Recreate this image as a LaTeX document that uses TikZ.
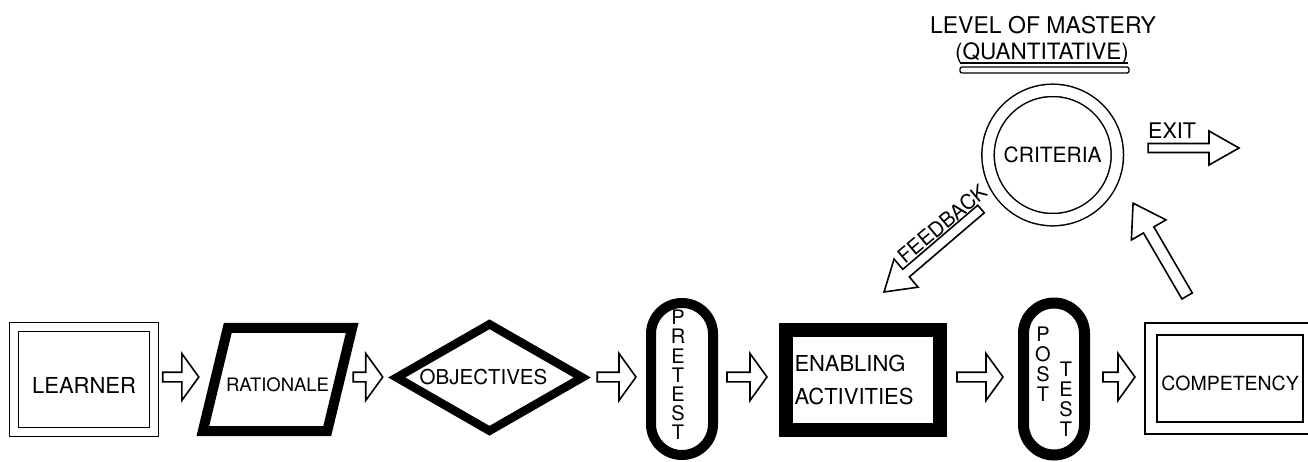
\documentclass[tikz,border=0pt]{standalone}
\usepackage{fontspec}
\setmainfont{TeX Gyre Heros}
\usetikzlibrary{shapes.geometric,calc}

\tikzset{
  ashaft/.store in=\ashaft, ahead/.store in=\ahead, ahlen/.store in=\ahlen,
  ashaft=4.8, ahead=23.5, ahlen=17,
  hollow/.style={draw, line width=1.6pt, fill=white, line join=miter},
  dbox/.style={draw, rectangle, line width=1.5pt, double=white, double distance=7.5pt, inner sep=0pt},
  heavy/.style={draw, line width=#1, inner sep=0pt, line join=miter},
  lbl/.style={font=\fontsize{#1pt}{#1pt}\selectfont},
  stack/.style={font=\fontsize{20pt}{#1pt}\selectfont, align=center, inner sep=0pt}
}

\newcommand{\hollowarrow}[3][]{%
  \draw[hollow,#1] let \p1=(#2), \p2=(#3),
    \n1={atan2(\y2-\y1,\x2-\x1)}, \n2={veclen(\x2-\x1,\y2-\y1)} in
    [shift={(\p1)}, rotate=\n1]
    (0,-\ashaft) -- (\n2-\ahlen,-\ashaft) -- (\n2-\ahlen,-\ahead) -- (\n2,0)
    -- (\n2-\ahlen,\ahead) -- (\n2-\ahlen,\ashaft) -- (0,\ashaft) -- cycle;}

\begin{document}
\begin{tikzpicture}[x=1pt, y=-1pt]
\useasboundingbox (0,0) rectangle (1308,461);
\clip (0,0) rectangle (1308,461);

\coordinate (axis) at (0,377);

\node[dbox, minimum width=139.75pt, minimum height=104.75pt,
  label={[lbl=22, yshift=-5.5pt]center:LEARNER}] (learner) at (84.1,379.6) {};

\node[rectangle, inner sep=0pt, minimum width=149pt, minimum height=103pt,
  label={[lbl=18.5, yshift=-5.5pt]center:RATIONALE}] (rationale) at (277.5,379.5) {};
\draw[line width=10pt, line join=miter] ($(rationale.north west)+(25,0)$) -- (rationale.north east)
  -- ($(rationale.south east)+(-25,0)$) -- (rationale.south west) -- cycle;

\node[heavy=8.5pt, diamond, minimum width=189pt, minimum height=110pt,
  label={[lbl=20.5, xshift=-6pt]center:OBJECTIVES}] (objectives) at (489.5,377.5) {};

\node[heavy=10pt, rectangle, rounded corners=30.9pt, minimum width=62pt,
  minimum height=152pt] (pretest) at (682,379) {};
\node[stack=19.2] (pretestword) at ($(pretest)+(-4,-4)$) {P\\R\\E\\T\\E\\S\\T};

\node[heavy=14pt, rectangle, minimum width=154pt, minimum height=99.5pt,
  align=left, text width=136pt, font=\fontsize{22pt}{33pt}\selectfont]
  (enabling) at (862.5,379.75) {ENABLING\\ACTIVITIES};

\node[heavy=11pt, rectangle, rounded corners=30.4pt, minimum width=61pt,
  minimum height=152pt] (posttest) at (1054,379) {};
\node[stack=20] (postword) at ($(posttest)+(-11,-14.5)$) {P\\O\\S\\T};
\node[stack=20] (testword) at ($(posttest)+(12,20)$) {T\\E\\S\\T};

\node[dbox, double distance=10.5pt, minimum width=157.75pt, minimum height=98.75pt,
  label={[lbl=19.5, yshift=-5pt]center:COMPETENCY}] (competency) at (1230.1,378.6) {};

\node[dbox, circle, double distance=10.8pt, minimum size=129.3pt, lbl=21]
  (criteria) at (1052.7,155) {CRITERIA};

\node[lbl=23] (mastery) at (1043,25) {LEVEL OF MASTERY};
\node[lbl=22.5] (quantity) at (1042,53) {(QUANTITATIVE)};
\draw[line width=1.3pt] ($(quantity)+(-82,10)$) -- ($(quantity)+(86,10)$);
\draw[line width=1.3pt, rounded corners=2pt] ($(quantity)+(-82,14)$) rectangle ($(quantity)+(87,20)$);

\hollowarrow{$(learner.east |- axis)+(8,0)$}{$(rationale.west |- axis)+(-4,0)$}
\hollowarrow{$(rationale.east |- axis)+(1,0)$}{$(objectives.west |- axis)+(-8,0)$}
\hollowarrow{$(objectives.east |- axis)+(9,0)$}{$(pretest.west |- axis)+(-10,0)$}
\hollowarrow{$(pretest.east |- axis)+(9,0)$}{$(enabling.west |- axis)+(-11.5,0)$}
\hollowarrow{$(enabling.east |- axis)+(10.5,0)$}{$(posttest.west |- axis)+(-15,0)$}
\hollowarrow{$(posttest.east |- axis)+(13,0)$}{$(competency.west |- axis)+(-15.5,0)$}

\coordinate (exittip) at (1239,148);
\hollowarrow[ashaft=4.5, ahead=17, ahlen=30]{$(criteria.east)+(30,-7)$}{exittip}
\node[lbl=21.5, anchor=south west, inner sep=0pt] (exitlabel) at (1148,138.5) {EXIT};

\hollowarrow[ashaft=6, ahead=20, ahlen=31]{$(competency.north)+(-43,-32.5)$}{$(criteria.center)+(80.3,48)$}

\hollowarrow[ashaft=5, ahead=18.5, ahlen=29]{$(criteria.center)+(-71.7,54)$}{$(criteria.center)+(-168.7,137)$}
\node[lbl=20.5, rotate=40, inner sep=0pt] (feedbacklabel) at ($(criteria.center)+(-110.7,69)$) {FEEDBACK};
\end{tikzpicture}
\end{document}
